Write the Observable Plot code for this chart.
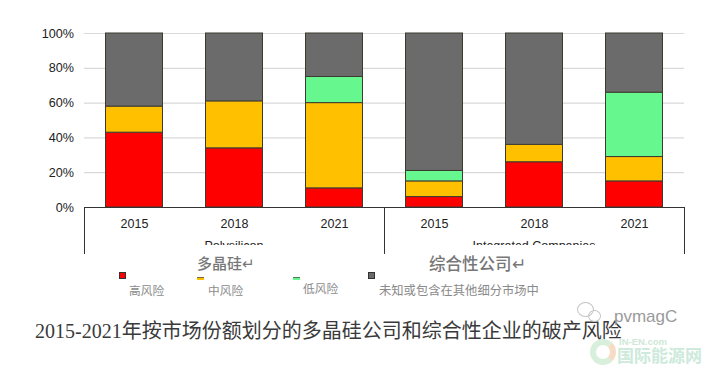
<!DOCTYPE html>
<html><head><meta charset="utf-8">
<script src="https://cdn.jsdelivr.net/npm/d3@7"></script>
<script src="https://cdn.jsdelivr.net/npm/@observablehq/plot@0.6"></script>
<style>
html,body{margin:0;padding:0;background:#fff}
#wrap{position:relative;width:708px;height:369px;overflow:hidden;font-family:"Liberation Sans",Arial,sans-serif}
#wrap svg{position:absolute;left:0;top:0;display:block}
.abs{position:absolute;white-space:nowrap}
.zh{font-family:"Noto Sans CJK SC",sans-serif}
.clip{position:absolute;top:241px;height:4px;width:300px;overflow:hidden;text-align:center}
.clip span{position:absolute;left:0;right:0;top:-1px;font-size:12.5px;line-height:12px;color:#222}
.sw{position:absolute;box-sizing:border-box;border:1px solid #333}
.lg{color:#8a8a8a;font-size:11.7px;line-height:14px}
.head{color:#777;font-size:15px;line-height:16px;font-weight:500}
</style></head>
<body><div id="wrap"></div>
<script>
const groups = ["Polysilicon", "Integrated Companies"];
const years = ["2015", "2018", "2021"];
const risks = ["High", "Medium", "Low", "Unknown"];
const colors = ["#ff0000", "#ffc000", "#66f78f", "#6b6b6b"];
const highRisk    = [43, 34, 11, 6, 26, 15];
const mediumRisk  = [15, 27, 49, 9, 10, 14];
const lowRisk     = [0, 0, 15, 6, 0, 37];
const unknownRisk = [42, 39, 25, 79, 64, 34];
const yTicks = [0, 20, 40, 60, 80, 100];
const groupHeads = ["多晶硅↵", "综合性公司↵"];
const legendZh = ["高风险", "中风险", "低风险", "未知或包含在其他细分市场中"];
const caption = "2015-2021年按市场份额划分的多晶硅公司和综合性企业的破产风险";

const series = [highRisk, mediumRisk, lowRisk, unknownRisk];
const table = [];
groups.forEach((g, gi) => years.forEach((yr, yi) => risks.forEach((r, ri) => {
  const v = series[ri][gi * 3 + yi];
  if (v > 0) table.push({group: g, year: yr, risk: r, value: v});
})));

const edgeLeft = groups.map(g => ({group: g, year: years[0]}));
const edgeRight = [{group: groups[1], year: years[2]}];
const sepOpts = {x: "year", fx: "group", y1: 0, y2: -27, stroke: "#333", strokeWidth: 1};

const chart = Plot.plot({
  width: 708, height: 254,
  marginLeft: 84, marginRight: 24, marginTop: 33, marginBottom: 47,
  style: {background: "transparent", fontFamily: '"Liberation Sans",Arial,sans-serif'},
  fx: {domain: groups, padding: 0, axis: null, label: null},
  x: {domain: years, type: "band", paddingInner: 0.43, paddingOuter: 0.215, round: false, label: null},
  y: {domain: [0, 100], label: null},
  color: {domain: risks, range: colors},
  marks: [
    Plot.gridY(yTicks.slice(1), {stroke: "#d9d9d9", strokeOpacity: 1, strokeWidth: 1.2}),
    Plot.barY(table, {x: "year", fx: "group", y: "value", fill: "risk", stroke: "#3d3a30", strokeWidth: 1, order: null}),
    Plot.axisY(yTicks, {tickSize: 0, tickPadding: 10.5, fontSize: 12.6, fill: "#222", tickFormat: d => d + "%", label: null}),
    Plot.axisX({tickSize: 0, tickPadding: 12, fontSize: 12.5, fill: "#222", label: null}),
    Plot.ruleY([0], {stroke: "#333", strokeWidth: 1.2}),
    Plot.ruleX(edgeLeft, {...sepOpts, dx: -50}),
    Plot.ruleX(edgeRight, {...sepOpts, dx: 50})
  ]
});
const wrap = document.getElementById("wrap");
wrap.appendChild(chart);

function add(html, cls, css) {
  const d = document.createElement("div");
  d.className = cls; d.innerHTML = html; d.style.cssText = css; wrap.appendChild(d); return d;
}
add("<span>" + groups[0] + "</span>", "clip", "left:84px");
add("<span>" + groups[1] + "</span>", "clip", "left:384px");
add(groupHeads[0], "abs zh head", "left:197px;top:255px");
add(groupHeads[1], "abs zh head", "left:429px;top:255px;font-size:16.5px");
add("", "sw", "left:119px;top:272px;width:7px;height:7px;background:" + colors[0]);
add("", "sw", "left:197px;top:277px;width:7px;height:3px;border-width:1px 0 0;border-color:#7a6a30;background:" + colors[1]);
add("", "sw", "left:293px;top:277px;width:7px;height:3px;border-width:1px 0 0;border-color:#4a7a5a;background:" + colors[2]);
add("", "sw", "left:368px;top:272px;width:7px;height:7px;background:" + colors[3]);
add(legendZh[0], "abs zh lg", "left:129px;top:283px");
add(legendZh[1], "abs zh lg", "left:208px;top:283px");
add(legendZh[2], "abs zh lg", "left:303px;top:281px");
add(legendZh[3], "abs zh lg", "left:379px;top:283px;font-size:12.3px");
add(caption, "abs", 'left:35px;top:319px;font-size:20px;line-height:24px;color:#3a3a3a;font-family:"Liberation Serif","Noto Sans CJK SC",serif');
add("pvmagC", "abs", "left:614px;top:308px;font-size:17px;line-height:18px;color:#9a9a9a");
add("IN-EN.com", "abs", "left:619px;top:338px;font-size:9.5px;line-height:8px;font-weight:bold;color:#cfe8d6");
add("国际能源网", "abs zh", "left:617px;top:347px;font-size:17px;line-height:16px;font-weight:700;color:#cdeadb");
add("", "abs", "left:590px;top:339px;width:14px;height:14px;border:6px solid #d8efdc;border-right-color:#f6dcc4;border-radius:50%");
add("", "abs", "left:577px;top:302px;width:15px;height:13px;border:1px solid #c4c4c4;border-radius:50%");
add("", "abs", "left:588px;top:310px;width:11px;height:10px;border:1px solid #c4c4c4;border-radius:50%");
</script></body></html>
